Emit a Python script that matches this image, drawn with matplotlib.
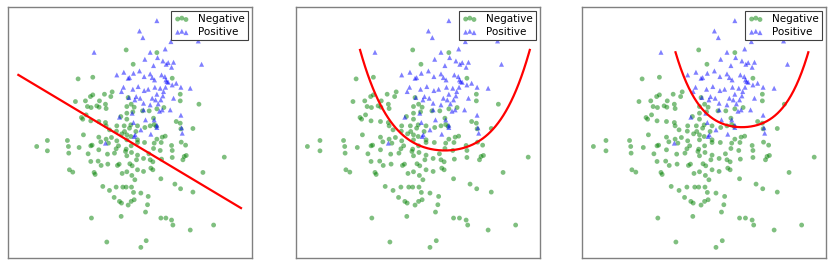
import numpy as np
import matplotlib.pyplot as plt

# point positions (image-like coords, y grows down)
neg_x = [378, 399, 470, 516, 234, 278, 336, 313, 278, 271, 256, 226, 298, 332, 316, 262, 273, 290, 297, 318,
         380, 393, 384, 402, 398, 380, 540, 540, 596, 427, 447, 470, 491, 460, 244, 248, 272, 258, 296, 316,
         318, 350, 362, 380, 392, 388, 407, 372, 373, 328, 349, 365, 380, 412, 434, 450, 462, 468, 528, 540,
         542, 578, 486, 495, 470, 412, 392, 380, 334, 318, 296, 250, 302, 325, 350, 355, 378, 393, 412, 433,
         462, 483, 543, 556, 514, 516, 480, 460, 446, 450, 458, 430, 412, 409, 394, 380, 376, 348, 343, 322,
         296, 276, 272, 264, 237, 205, 206, 202, 142, 142, 110, 272, 294, 303, 323, 352, 357, 389, 396, 412,
         430, 452, 458, 484, 516, 548, 552, 558, 672, 608, 208, 218, 282, 285, 366, 380, 395, 404, 482, 524,
         541, 578, 308, 328, 348, 368, 378, 394, 400, 422, 444, 342, 358, 364, 384, 393, 402, 442, 436, 363,
         274, 482, 497, 514, 518, 570, 640, 320, 438, 422]
neg_y = [150, 193, 158, 235, 237, 232, 276, 283, 285, 290, 303, 305, 303, 290, 313, 320, 323, 318, 322, 326,
         320, 313, 293, 322, 336, 340, 283, 303, 313, 333, 333, 327, 323, 355, 353, 358, 363, 345, 365, 368,
         378, 378, 350, 358, 375, 385, 395, 378, 395, 390, 394, 402, 405, 378, 383, 378, 374, 380, 365, 370,
         387, 386, 412, 409, 418, 420, 410, 420, 413, 418, 412, 405, 426, 430, 423, 438, 448, 438, 428, 428,
         430, 428, 427, 436, 437, 452, 452, 446, 462, 480, 486, 476, 466, 480, 458, 468, 455, 447, 460, 463,
         450, 436, 438, 462, 443, 440, 460, 422, 422, 453, 440, 485, 484, 497, 493, 497, 493, 492, 498, 510,
         515, 505, 510, 478, 473, 480, 470, 467, 472, 518, 510, 517, 518, 524, 521, 516, 527, 540, 537, 553,
         567, 577, 560, 572, 562, 562, 562, 562, 578, 580, 590, 593, 605, 610, 616, 605, 600, 615, 637, 650,
         655, 655, 655, 661, 676, 691, 676, 727, 723, 743]

pos_x = [470, 418, 428, 512, 594, 282, 450, 495, 472, 434, 488, 504, 498, 520, 514, 460, 418, 400, 388, 384,
         371, 350, 432, 450, 456, 463, 484, 494, 497, 504, 500, 516, 528, 542, 570, 604, 370, 398, 414, 408,
         432, 444, 464, 480, 490, 470, 488, 456, 466, 482, 474, 450, 420, 404, 386, 364, 430, 496, 520, 486,
         510, 478, 542, 430, 396, 358, 400, 436, 462, 470, 470, 422, 452, 546, 544, 402, 316, 405]
pos_y = [62, 93, 113, 125, 123, 157, 157, 147, 173, 178, 183, 188, 193, 187, 202, 197, 213, 220, 233, 235,
         217, 225, 230, 222, 233, 240, 225, 230, 240, 247, 245, 255, 250, 262, 265, 193, 262, 268, 260, 290,
         272, 268, 262, 265, 275, 283, 288, 295, 300, 300, 312, 315, 295, 300, 293, 275, 310, 262, 295, 330,
         330, 334, 346, 330, 340, 352, 368, 360, 360, 376, 383, 390, 403, 400, 384, 410, 430, 405]

# decision boundaries (same coords)
line_x = [55, 722]
line_y = [225, 625]
quad_centre = [460, 488]
quad_half = [216, 169]
quad_bottom = [452, 382]
quad_depth = [302, 225]

fig = plt.figure(figsize=(8.34, 2.64), dpi=100)
lefts = [8, 296, 582]
xlims = [(24, 755), (81, 702), (81, 702)]

for i in range(3):
    ax = fig.add_axes([lefts[i] / 834, 6 / 264, 244 / 834, 251 / 264])
    ax.scatter(neg_x, neg_y, s=12, c="green", alpha=0.5, edgecolors="none",
               marker="o", label="Negative")
    ax.scatter(pos_x, pos_y, s=13, c="blue", alpha=0.5, edgecolors="none",
               marker="^", label="Positive")

    if i == 0:
        ax.plot(line_x, line_y, color="red", lw=1.6)
    else:
        k = i - 1
        u = np.linspace(-1, 1, 200)
        xs = quad_centre[k] + quad_half[k] * u
        ys = quad_bottom[k] - quad_depth[k] * (0.5 * u ** 2 + 0.5 * u ** 4)
        ax.plot(xs, ys, color="red", lw=1.6)

    ax.set_xlim(*xlims[i])
    ax.set_ylim(775, 21)
    ax.set_xticks([])
    ax.set_yticks([])
    for sp in ax.spines.values():
        sp.set_color("#808080")
        sp.set_linewidth(1.0)

    leg = ax.legend(loc="upper right", scatterpoints=3, fontsize=7.5,
                    fancybox=False, framealpha=1, borderpad=0.3,
                    labelspacing=0.3, handletextpad=0.9,
                    borderaxespad=0.35, handlelength=1.4)
    leg.get_frame().set_edgecolor("#404040")
    leg.get_frame().set_linewidth(0.8)

fig.savefig("out.png", dpi=100)
